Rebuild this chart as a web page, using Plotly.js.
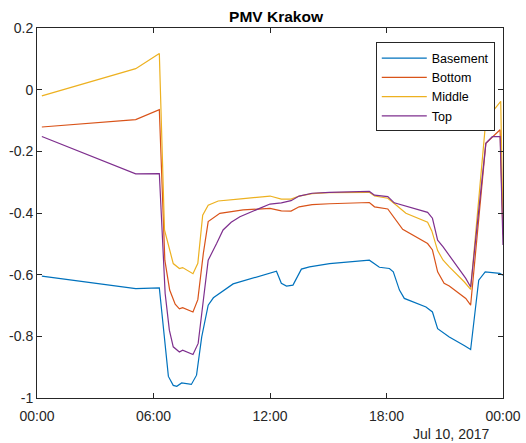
<!DOCTYPE html>
<html><head><meta charset="utf-8">
<script src="https://cdn.plot.ly/plotly-3.0.1.min.js"></script>
<style>html,body{margin:0;padding:0;background:#fff;}#chart{width:526px;height:443px;}</style>
</head><body><div id="chart"></div>
<script>
const day = "2017-07-10";
const nextDay = "2017-07-11";
const seriesNames = ["Basement", "Bottom", "Middle", "Top"];
const seriesColors = ["#0072BD", "#D95319", "#EDB120", "#7E2F8E"];

const basementTimes = ["00:15","05:05","06:18","06:46","07:01","07:12","07:27","07:57","08:13","08:29","08:49","09:05","10:06","11:08","12:20","12:35","12:51","13:11","13:37","14:02","14:33","15:04","17:07","17:38","18:09","18:21","18:40","18:55","20:02","20:22","20:38","21:14","22:00","22:20","22:45","23:05","23:50","24:00"];
const basementValues = [-0.605,-0.645,-0.643,-0.930,-0.959,-0.962,-0.951,-0.956,-0.926,-0.802,-0.699,-0.675,-0.630,-0.612,-0.589,-0.628,-0.637,-0.634,-0.582,-0.575,-0.569,-0.564,-0.553,-0.576,-0.580,-0.591,-0.650,-0.677,-0.705,-0.721,-0.775,-0.802,-0.830,-0.843,-0.618,-0.591,-0.596,-0.602];

const bottomTimes = ["00:15","05:05","06:18","06:35","06:50","07:07","07:20","07:30","08:02","08:17","08:34","08:49","09:25","10:37","12:00","12:35","13:05","13:30","14:10","15:04","17:07","17:23","18:04","18:24","18:50","20:07","20:22","20:38","20:58","21:14","22:05","22:20","23:07","23:51","24:00"];
const bottomValues = [-0.121,-0.097,-0.065,-0.553,-0.650,-0.696,-0.711,-0.707,-0.721,-0.681,-0.531,-0.428,-0.401,-0.390,-0.385,-0.393,-0.394,-0.380,-0.373,-0.370,-0.366,-0.380,-0.387,-0.417,-0.453,-0.499,-0.520,-0.591,-0.628,-0.637,-0.677,-0.699,-0.174,-0.130,-0.470];

const middleTimes = ["00:15","05:05","06:18","06:34","07:01","07:20","07:30","08:02","08:17","08:32","08:49","09:20","10:30","12:00","12:35","13:05","13:30","14:10","15:00","17:07","17:23","18:04","18:24","19:00","20:07","20:20","20:38","20:55","21:14","22:00","22:20","23:07","23:53","24:00"];
const middleValues = [-0.020,0.068,0.117,-0.455,-0.564,-0.580,-0.577,-0.597,-0.563,-0.407,-0.375,-0.361,-0.354,-0.345,-0.355,-0.355,-0.345,-0.337,-0.334,-0.333,-0.345,-0.352,-0.369,-0.401,-0.430,-0.458,-0.522,-0.553,-0.575,-0.623,-0.648,-0.098,-0.038,-0.455];

const topTimes = ["00:15","05:05","06:18","06:36","06:49","07:01","07:20","07:30","08:02","08:18","08:34","08:49","09:15","09:35","10:00","10:27","11:28","12:00","12:35","13:05","13:30","14:10","15:04","17:07","17:23","18:04","18:24","20:07","20:22","20:38","20:55","22:05","22:20","23:07","23:27","23:51","24:00"];
const topValues = [-0.152,-0.273,-0.272,-0.661,-0.780,-0.834,-0.851,-0.845,-0.859,-0.823,-0.683,-0.553,-0.499,-0.455,-0.430,-0.412,-0.385,-0.371,-0.367,-0.360,-0.345,-0.336,-0.333,-0.330,-0.342,-0.347,-0.367,-0.398,-0.417,-0.488,-0.510,-0.612,-0.640,-0.174,-0.152,-0.152,-0.504];

const xTickTimes = ["00:00","06:00","12:00","18:00","24:00"];
const xTickLabels = ["00:00","06:00","12:00","18:00","00:00"];
const yTickVals = [-1,-0.8,-0.6,-0.4,-0.2,0,0.2];
const yTickLabels = ["-1","-0.8","-0.6","-0.4","-0.2","0","0.2"];
const dateLabel = "Jul 10, 2017";
const chartTitle = "PMV Krakow";

function toDate(t){ return t === "24:00" ? nextDay + " 00:00" : day + " " + t; }

const allTimes = [basementTimes, bottomTimes, middleTimes, topTimes];
const allValues = [basementValues, bottomValues, middleValues, topValues];

const traces = seriesNames.map((n, i) => ({
  type: "scatter", mode: "lines", name: n,
  x: allTimes[i].map(toDate), y: allValues[i],
  line: {color: seriesColors[i], width: 1.2}
}));

const font = "Liberation Sans, Arial, Helvetica, sans-serif";
const layout = {
  width: 526, height: 443,
  margin: {l: 36.5, r: 22.5, t: 28.3, b: 45.3},
  paper_bgcolor: "#fff", plot_bgcolor: "#fff",
  font: {family: font, size: 14, color: "#262626"},
  title: {text: chartTitle, font: {family: font, size: 15.5, weight: "bold", color: "#000"},
          x: 0.513, xanchor: "center", xref: "paper", y: 0.962, yanchor: "middle", yref: "container"},
  xaxis: {type: "date", range: [toDate("00:00"), toDate("24:00")],
          tickvals: xTickTimes.map(toDate), ticktext: xTickLabels,
          showline: true, linecolor: "#262626", linewidth: 1, mirror: "ticks",
          ticks: "inside", ticklen: 5, tickcolor: "#262626", showgrid: false, zeroline: false,
          ticklabelstandoff: 5,
          tickfont: {size: 14, color: "#262626"}},
  yaxis: {range: [-1, 0.2], tickvals: yTickVals, ticktext: yTickLabels,
          showline: true, linecolor: "#262626", linewidth: 1, mirror: "ticks",
          ticks: "inside", ticklen: 5, tickcolor: "#262626", showgrid: false, zeroline: false,
          tickfont: {size: 14, color: "#262626"}},
  showlegend: true,
  legend: {x: 0.727, y: 0.961, xanchor: "left", yanchor: "top",
           bgcolor: "#fff", bordercolor: "#262626", borderwidth: 1,
           font: {size: 12.5, color: "#000"}, itemwidth: 45, tracegroupgap: 0},
  annotations: [{text: dateLabel, xref: "paper", yref: "paper", x: 1.0, y: -0.096,
                 xanchor: "center", yanchor: "middle", showarrow: false,
                 font: {size: 14, color: "#262626"}, xshift: -52}]
};
Plotly.newPlot("chart", traces, layout, {staticPlot: true, displayModeBar: false});
</script></body></html>
